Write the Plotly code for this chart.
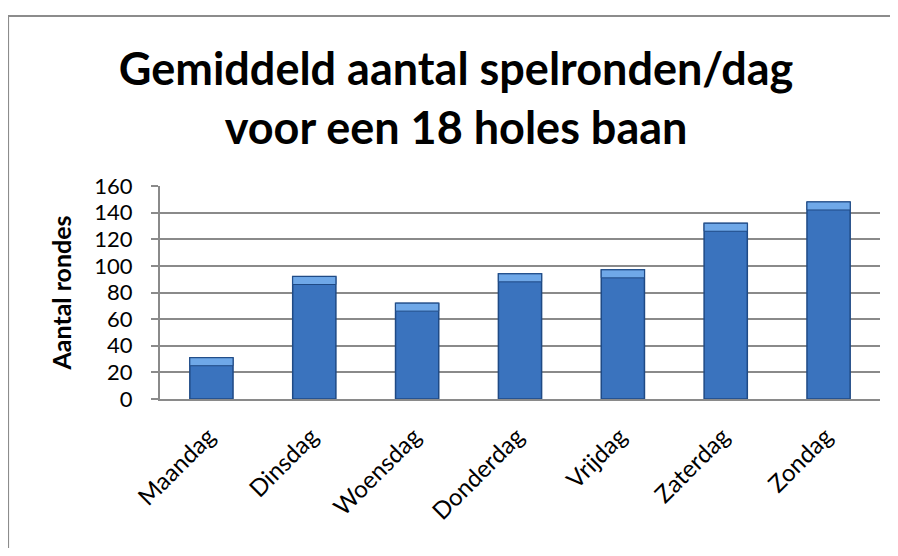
import plotly.graph_objects as go

days = ["Maandag", "Dinsdag", "Woensdag", "Donderdag", "Vrijdag", "Zaterdag", "Zondag"]
rondes = [31, 92, 72, 94, 97, 132, 148]
y_ticks = [0, 20, 40, 60, 80, 100, 120, 140, 160]

title_text = "Gemiddeld aantal spelronden/dag<br>voor een 18 holes baan"
y_title = "Aantal rondes"

bevel = 6
grid_col = "#8a8a8a"

fig = go.Figure()
fig.add_trace(go.Bar(
    x=days, y=rondes,
    marker=dict(color="#3A73BE", line=dict(color="#1F4A85", width=1.5)),
    hoverinfo="x+y",
))
fig.add_trace(go.Bar(
    x=days, y=[bevel] * len(rondes), base=[v - bevel for v in rondes],
    marker=dict(color="#6FA8E8", line=dict(color="#1F4A85", width=1)),
    hoverinfo="skip",
))

fig.update_layout(
    width=882, height=540,
    margin=dict(l=152, r=10, t=178, b=149),
    paper_bgcolor="white", plot_bgcolor="white",
    barmode="overlay", bargap=0.58, showlegend=False,
    title=dict(text=title_text, x=0.508, xanchor="center", y=0.857, yanchor="middle",
               font=dict(family="Lato", size=45, color="black", weight="bold")),
    font=dict(family="Lato", color="black"),
    xaxis=dict(showline=True, linecolor=grid_col, linewidth=2, tickangle=-45,
               tickfont=dict(size=24), ticks="", showgrid=False,
               ticklabelstandoff=12, ticklabelshift=-3),
    yaxis=dict(range=[0, 160], tickvals=y_ticks, showgrid=True, gridcolor=grid_col, gridwidth=2,
               showline=True, linecolor=grid_col, linewidth=2,
               ticks="outside", ticklen=7, tickcolor=grid_col, tickwidth=2,
               tickfont=dict(size=22), zeroline=False, ticklabelstandoff=14,
               title=dict(text=y_title, font=dict(size=25, weight="bold"), standoff=16)),
    shapes=[dict(type="rect", xref="paper", yref="paper",
                 x0=-0.211, x1=1.1, y0=-0.8, y1=1.798,
                 line=dict(color="#8c8c8c", width=2), layer="below")],
)

fig.write_html("out.html")
